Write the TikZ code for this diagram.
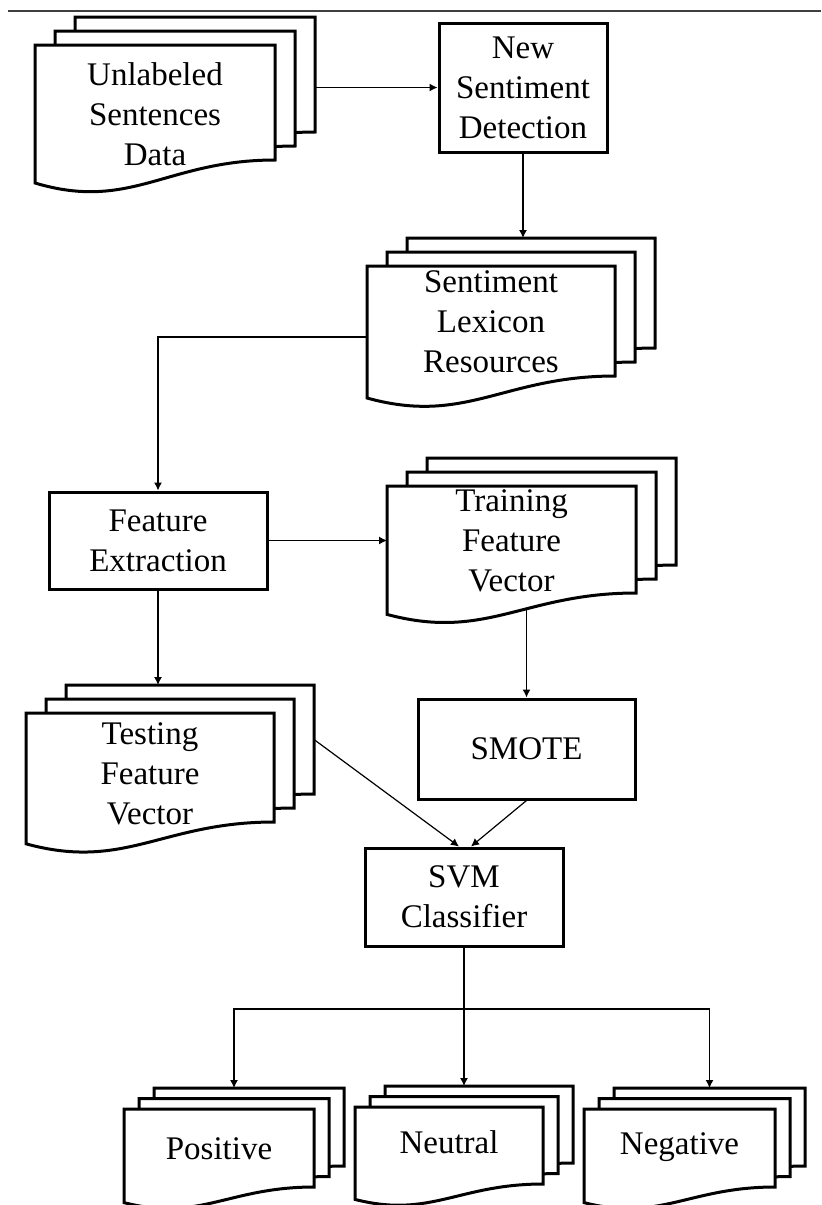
\documentclass[tikz,border=0pt]{standalone}
\usepackage{fontspec}
\setmainfont{Liberation Serif}
\usetikzlibrary{arrows.meta}

% Stapel aus drei Dokumentseiten
% #1 Name, #2/#3 vordere Seite oben links, #4 Breite, #5 Hoehe,
% #6 Versatz, #7 Abstand des Textes von oben, #8 Text
\newcommand{\docstack}[8]{%
  \foreach \k in {2,1,0}{%
    \begin{scope}[shift={({#2+\k*#6},{#3-0.7*\k*#6})}]
      \draw[page] (0,0) -- (#4,0) -- (#4,#5)
        .. controls ({0.55*#4},#5) and ({0.4*#4},{1.45*#5}) .. (0,{1.2*#5}) -- cycle;
    \end{scope}
  }%
  \node[sheet,minimum width={0.5pt*#4},minimum height={0.5pt*#5}] (#1) at ({#2+#4/2},{#3+#5/2}) {};
  \node[sheet,minimum width={0.5pt*#4},minimum height={0.5pt*#5}] (#1-b) at ({#2+2*#6+#4/2},{#3-1.4*#6+#5/2}) {};
  \coordinate (#1-bot) at ({#2+0.55*#4},{#3+1.16*#5});
  \node[align=center] (#1-t) at ({#2+#4/2},{#3+#7}) {#8};
}

\begin{document}
\begin{tikzpicture}[x=0.5pt,y=-0.5pt,>={Latex[length=4pt,width=4pt]},
  font=\fontsize{16.5}{20}\selectfont,
  page/.style={draw,fill=white,line width=1.5pt},
  sheet/.style={inner sep=0pt,outer sep=0pt},
  box/.style={draw,line width=1.5pt,align=center,inner sep=0pt},
  link/.style={->,line width=0.6pt}]
\useasboundingbox (0,0) rectangle (821,1205);
% Linie oben
\draw[line width=0.8pt,black!75] (8,11) -- (821,11);
% Dokumentstapel
\docstack{unl}{35}{45}{240}{115}{20}{69}{Unlabeled\\Sentences\\Data}
\docstack{lex}{367}{266}{248}{110}{20}{56}{Sentiment\\Lexicon\\Resources}
\docstack{trn}{387}{486}{249}{107}{20}{55}{Training\\Feature\\Vector}
\docstack{tst}{26}{713}{248}{109}{20}{61}{Testing\\Feature\\Vector}
\docstack{pos}{124}{1109}{190}{78}{15}{40}{Positive}
\docstack{neu}{355}{1107}{188}{77}{15}{35}{Neutral}
\docstack{neg}{584}{1109}{191}{78}{15}{38}{Negative}
% Verarbeitungsschritte
\node[box,minimum width=84pt,minimum height=64.5pt] (nsd) at (523,87.5) {New\\Sentiment\\Detection};
\node[box,minimum width=109pt,minimum height=48.5pt] (fe) at (158,540.5) {Feature\\Extraction};
\node[box,minimum width=108.5pt,minimum height=50pt] (smote) at (526.5,749) {SMOTE};
\node[box,minimum width=99pt,minimum height=49pt] (svm) at (464,897) {SVM\\Classifier};
\coordinate (split) at (464,1009);
% Verbindungen
\draw[link] (unl-b.east |- nsd.west) -- (nsd.west);
\draw[link] (nsd.south) -- (nsd.south |- lex-b.north);
\draw[link] ([yshift=-8pt]lex.west) -| (fe.north);
\draw[link] (fe.east) -- (fe.east -| trn.west);
\draw[link] (fe.south) -- (fe.south |- tst-b.north);
\draw[link] (smote.north |- trn-bot) -- (smote.north);
\draw[link] (tst-b.east) -- ([xshift=-2.5pt]svm.north);
\draw[link] (smote.south) -- ([xshift=3.5pt]svm.north);
\draw[line width=0.6pt] (svm.south) -- (split);
\draw[link] (split) -| ([xshift=-7.5pt]pos-b.north);
\draw[link] (split) -- (split |- neu-b.north);
\draw[link] (split) -| (neg-b.north);
\end{tikzpicture}
\end{document}
